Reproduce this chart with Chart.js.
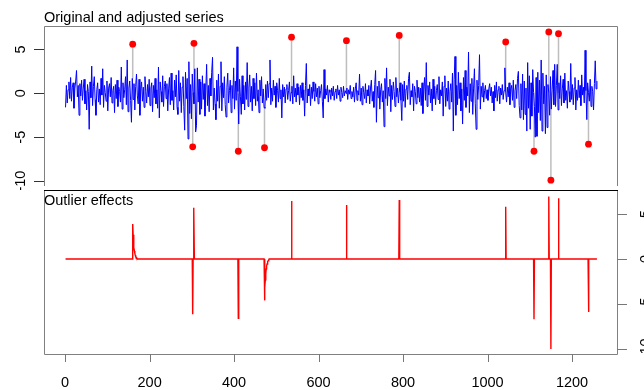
<!DOCTYPE html>
<html>
<head>
<meta charset="utf-8">
<script src="https://cdn.jsdelivr.net/npm/chart.js@4.4.1/dist/chart.umd.min.js"></script>
<style>
  html, body { margin: 0; padding: 0; background: #fff; }
  #wrap { position: relative; width: 644px; height: 390px; overflow: hidden; }
  canvas { position: absolute; left: 0; }
  #topChart { top: 0; }
  #bottomChart { top: 190px; }
</style>
</head>
<body>
<div id="wrap">
  <canvas id="topChart" width="644" height="190"></canvas>
  <canvas id="bottomChart" width="644" height="200"></canvas>
</div>
<script>
// adjusted series, one value every 2 time steps (t = 1, 3, 5, ...)
const adjusted = [
  -1.6, 0.9, -1.1, 0.4, 1.3, -0.6, 1.8, -0.9, 0.7, 1.2, -1.7, 0.5, 1.4, 2.6, -0.4, 0.9, -2.5, 1.1, -0.3, 1.5,
  -0.8, 0.6, 1.6, -1.2, 0.3, -1.9, 1.0, 0.2, -4.1, 1.3, -0.5, 3.1, -1.4, 0.8, 1.9, -0.7, -2.5, 0.4, 1.2, -1.0,
  0.5, -1.3, 1.7, -0.2, 2.8, -1.6, 0.9, 0.1, -0.9, 1.4, -2.0, 0.6, 1.1, -0.4, 1.8, -1.1, 0.3, 0.8, -2.2, 1.0,
  -0.6, 1.5, -1.5, 0.7, 0.2, -1.0, 3.0, -1.8, 1.2, -0.5, 0.4, 1.9, -1.3, 3.8, -2.1, 0.6, 1.4, -0.8, -3.3, 1.7,
  -0.7, 1.1, -1.9, 0.8, 2.2, -0.3, -1.2, 1.6, -2.5, 0.5, 1.3, -0.9, 0.7, -1.6, 1.9, 0.2, -1.1, 1.0, -0.4, 1.6,
  -1.4, 0.6, 1.2, -2.1, 0.9, -0.5, 1.7, -1.2, 0.4, -1.7, 3.0, -2.8, 1.3, 0.2, -1.0, 2.0, -1.5, 0.8, 1.4, -0.6,
  1.1, -2.0, 0.5, 1.8, -1.3, 2.3, -0.8, 0.3, -1.9, 1.5, -0.4, 2.1, -1.6, -2.4, 2.6, -0.9, 1.2, -2.2, 0.7, 1.9,
  -1.5, -4.2, 2.4, -0.6, 1.7, -5.2, 3.6, -2.3, 1.0, -2.9, 2.2, 0.1, -1.2, 2.8, -4.4, -3.7, 2.9, -1.0, 1.6, -2.4,
  1.3, -1.8, 2.0, -0.7, 1.1, -2.6, 0.4, 3.3, -1.4, 0.9, -2.1, 1.7, -0.3, 2.4, 4.1, -1.9, 0.6, -1.2, -3.0, 1.5,
  -0.9, 2.2, -1.7, 0.8, 3.6, -2.0, 1.2, -0.5, 1.9, -1.3, -2.7, 0.7, 2.3, -1.1, 0.3, 1.5, -2.2, 0.9, -0.6, 2.9,
  -1.8, 1.4, -0.8, 5.3, 0.2, -3.5, 1.6, -0.4, -2.4, 2.0, -1.2, 0.9, -1.9, 1.3, -0.7, 3.5, -1.5, 0.6, 2.1, -1.0,
  0.8, -2.0, 1.7, -0.6, 1.2, -1.4, 2.3, -0.9, 0.4, -2.2, 1.5, -0.3, 1.9, -1.1, 0.5, -1.6, -1.7, 1.0, -0.8, 1.4,
  -0.5, 1.1, 3.8, -1.3, 0.6, -0.9, 1.5, -0.2, 0.8, -1.6, 1.2, 0.3, -1.0, 1.7, -0.6, 0.4, -2.8, 1.0, -0.4, 0.7,
  -1.1, 0.5, 1.0, -0.7, 0.3, 1.3, -0.9, 0.1, 0.8, -1.2, 2.0, -0.4, 0.6, -1.0, 1.1, -0.2, 0.7, -1.3, 0.9, -0.5,
  1.2, -0.8, 0.4, -2.6, 0.9, 3.4, -1.1, 0.5, -0.3, 1.0, -1.4, 0.7, -0.6, 1.3, 0.2, -0.9, 1.1, -0.4, 0.6, -1.2,
  0.8, -0.5, 0.3, 1.0, -0.9, -2.8, 2.7, -0.6, 0.5, -0.2, 0.9, -1.0, 0.4, 0.1, -0.7, 0.6, -0.3, 0.8, -0.8, 0.2,
  0.5, -0.6, 0.9, -0.2, 0.4, -0.9, 0.7, 0.1, -0.5, 0.8, -0.3, 0.3, 0.0, 0.6, -0.7, 0.4, -0.1, 0.9, -0.6, 0.2,
  -0.4, 0.7, -1.0, 0.5, 1.2, -0.8, 0.3, -0.2, 2.2, -0.9, 0.6, -1.3, 0.8, 0.1, -0.6, 1.1, -1.1, 0.4, -0.3, 0.9,
  -1.2, 0.6, 1.5, -0.9, 0.2, -1.6, 1.0, 2.6, -3.3, 0.8, -0.5, 1.4, -1.8, 0.4, 1.1, -1.0, 0.3, -3.8, 1.7, -0.6,
  2.9, -1.4, 0.7, -0.3, 1.6, -2.1, 0.9, -0.7, 1.3, 0.2, -1.5, 1.8, -0.4, 0.6, -1.1, 0.1, 1.2, -0.8, -3.1, 1.0,
  -0.9, 1.4, -1.6, 0.5, 0.9, -0.7, 1.7, 2.4, -1.3, 0.3, -0.4, 1.1, -2.0, 0.8, 0.2, -1.2, 1.5, -0.5, 0.7, -1.0,
  0.6, -1.4, 1.2, -2.3, 0.4, 1.8, -0.8, 3.5, -1.5, 0.9, -0.2, 1.3, -1.1, 0.5, -2.0, 1.6, -0.6, 0.8, -1.3, 0.3,
  1.0, -0.7, 1.9, -1.2, 0.4, -0.3, 1.3, -2.6, 0.8, 2.0, -1.5, 0.6, -0.9, 1.4, -1.8, 0.2, 1.1, -1.0, 2.3, -4.3,
  1.6, 4.2, -2.5, 0.9, -1.3, 2.4, -0.6, 1.2, -2.0, 0.5, -3.5, 1.8, -0.8, 2.6, -1.6, 0.7, -0.3, 4.7, -2.2, 1.1,
  -0.9, 1.7, -2.4, 0.6, 2.8, -1.2, -4.1, 1.5, -0.7, 0.9, 4.4, -1.8, 0.8, -0.4, 1.2, -1.0, 0.3, 0.9, -0.6, 0.4,
  -0.8, 0.5, 1.1, -0.3, 0.7, -1.1, 0.2, -2.0, 0.9, -0.5, 1.3, -0.9, 0.4, 0.8, -1.2, 0.6, -0.2, 1.0, -0.7, 0.3,
  2.9, 0.1, -1.0, 0.7, -0.4, 1.2, -1.3, 0.5, 0.9, -0.8, 1.5, -1.6, 0.3, 1.0, -0.6, 1.7, 2.5, -1.4, -2.8, 1.1,
  -1.9, 2.2, -3.0, 1.4, -2.4, 0.6, -4.3, 3.5, -1.7, 2.0, -4.1, 1.2, -2.6, 2.7, 0.1, -1.5, -5.0, 1.8, -4.9, 2.4,
  -2.2, 1.5, -3.1, 3.8, -4.3, 2.3, -1.2, 0.8, -4.6, 2.1, -3.9, 1.0, 0.1, -2.5, 1.9, -1.8, 0.4, 2.6, -1.3, 3.3,
  -1.5, 0.9, 3.3, -1.9, 1.2, -0.6, 2.0, -1.4, 0.5, 1.6, -1.1, 2.3, -0.8, 0.3, -1.7, 1.4, 0.2, -1.0, 3.4, -0.7,
  1.0, -1.3, 0.6, 1.8, -1.9, 0.4, -0.8, 1.5, -0.5, 0.9, -1.4, 2.1, -0.2, 0.7, -1.1, 4.9, 0.3, -3.0, 1.2, 0.1,
  -0.9, 1.6, -1.5, 0.8, 0.2, -1.9, 1.1, 3.7, 0.5, 1.4
];
const timeStart = 1;
const timeStep = 2;

// detected outliers: time, observed value, estimated effect
const outlierX = [160, 302, 305, 410, 472, 536, 666, 791, 1043, 1110, 1145, 1150, 1168, 1239];
const outlierValue = [5.6, -6.1, 5.7, -6.6, -6.2, 6.4, 6.0, 6.6, 5.85, -6.6, 7.0, -9.9, 6.8, -5.8];
const outlierEffect = [3.9, -6.15, 5.7, -6.6, -4.6, 6.45, 6.0, 6.55, 5.8, -6.7, 6.95, -10.0, 6.75, -5.9];

// temporary changes: effect from the outlier time onwards
const tcEffect160 = [3.9, 2.7, 1.9, 1.3, 0.9, 0.65, 0.45, 0.3, 0.2, 0.15, 0.1, 0];
const tcEffect472 = [-4.6, -3.2, -2.3, -1.6, -1.1, -0.8, -0.55, -0.4, -0.25, -0.2, -0.1, 0];
const tcEffects = { 160: tcEffect160, 472: tcEffect472 };

const xTicks = [0, 200, 400, 600, 800, 1000, 1200];
const yTicks = [-10, -5, 0, 5];
const xRange = [-50, 1306.5];
const yRange = [-10.56, 7.67];

const FONT = '14.5px "Liberation Sans", Arial, sans-serif';
const BOX = '#808080';

// data for the library
const adjustedPoints = adjusted.map((v, i) => ({ x: timeStart + timeStep * i, y: v }));
const outlierPoints = outlierX.map((x, i) => ({ x: x, y: outlierValue[i] }));

// grey segments: observed value back to the adjusted level
const originalSegments = [];
outlierX.forEach((x, i) => {
  originalSegments.push({ x: x, y: outlierValue[i] });
  originalSegments.push({ x: x, y: outlierValue[i] - outlierEffect[i] });
  originalSegments.push({ x: x, y: null });
});

const lastTime = timeStart + timeStep * (adjusted.length - 1);
const effectPoints = [{ x: timeStart, y: 0 }];
outlierX.forEach((x, i) => {
  effectPoints.push({ x: x - 1, y: 0 });
  if (tcEffects[x]) {
    tcEffects[x].forEach((v, k) => effectPoints.push({ x: x + k, y: v }));
  } else {
    effectPoints.push({ x: x, y: outlierEffect[i] });
    effectPoints.push({ x: x + 1, y: 0 });
  }
});
effectPoints.push({ x: lastTime, y: 0 });

function rotatedLabel(ctx, text, x, y) {
  ctx.save();
  ctx.translate(x, y);
  ctx.rotate(-Math.PI / 2);
  ctx.fillText(text, 0, 0);
  ctx.restore();
}

const topAxes = {
  id: 'topAxes',
  afterDraw(chart) {
    const { ctx, chartArea: a, scales: { y } } = chart;
    ctx.save();
    ctx.lineWidth = 1;
    ctx.strokeStyle = BOX;
    ctx.beginPath();
    ctx.moveTo(a.left + 0.5, a.bottom);
    ctx.lineTo(a.left + 0.5, a.top + 0.5);
    ctx.lineTo(a.right + 0.5, a.top + 0.5);
    ctx.lineTo(a.right + 0.5, a.bottom);
    ctx.stroke();

    ctx.strokeStyle = '#333';
    ctx.beginPath();
    yTicks.forEach(v => {
      const py = Math.round(y.getPixelForValue(v)) + 0.5;
      ctx.moveTo(a.left - 10, py);
      ctx.lineTo(a.left, py);
    });
    ctx.stroke();

    ctx.fillStyle = '#000';
    ctx.font = FONT;
    ctx.textAlign = 'center';
    ctx.textBaseline = 'alphabetic';
    yTicks.forEach(v => rotatedLabel(ctx, String(v), 25, y.getPixelForValue(v)));

    ctx.textAlign = 'left';
    ctx.fillText('Original and adjusted series', a.left, 22);
    ctx.restore();
  }
};

const bottomAxes = {
  id: 'bottomAxes',
  afterDraw(chart) {
    const { ctx, chartArea: a, scales: { x, y } } = chart;
    ctx.save();
    ctx.lineWidth = 1;
    ctx.strokeStyle = BOX;
    ctx.beginPath();
    ctx.moveTo(a.left + 0.5, a.top);
    ctx.lineTo(a.left + 0.5, a.bottom + 0.5);
    ctx.lineTo(a.right + 0.5, a.bottom + 0.5);
    ctx.lineTo(a.right + 0.5, a.top);
    ctx.stroke();

    ctx.strokeStyle = '#000';
    ctx.beginPath();
    ctx.moveTo(a.left, a.top + 0.5);
    ctx.lineTo(a.right + 1, a.top + 0.5);
    ctx.stroke();

    ctx.strokeStyle = '#777';
    ctx.beginPath();
    xTicks.forEach(v => {
      const px = Math.round(x.getPixelForValue(v)) + 0.5;
      ctx.moveTo(px, a.bottom);
      ctx.lineTo(px, a.bottom + 8);
    });
    yTicks.forEach(v => {
      const py = Math.round(y.getPixelForValue(v)) + 0.5;
      ctx.moveTo(a.right, py);
      ctx.lineTo(a.right + 10, py);
    });
    ctx.stroke();

    ctx.fillStyle = '#000';
    ctx.font = FONT;
    ctx.textAlign = 'center';
    ctx.textBaseline = 'alphabetic';
    xTicks.forEach(v => ctx.fillText(String(v), x.getPixelForValue(v), 196.5));
    yTicks.forEach(v => rotatedLabel(ctx, String(v), 650, y.getPixelForValue(v)));

    ctx.textAlign = 'left';
    ctx.fillText('Outlier effects', a.left, 15);
    ctx.restore();
  }
};

const hiddenScales = {
  x: { type: 'linear', min: xRange[0], max: xRange[1], display: false },
  y: { type: 'linear', min: yRange[0], max: yRange[1], display: false }
};

const baseOptions = {
  responsive: false,
  animation: false,
  events: [],
  devicePixelRatio: 1,
  plugins: { legend: { display: false }, tooltip: { enabled: false }, title: { display: false } },
  scales: hiddenScales
};

new Chart(document.getElementById('topChart'), {
  type: 'scatter',
  data: {
    datasets: [
      {
        label: 'Outliers',
        data: outlierPoints,
        showLine: false,
        pointRadius: 3.4,
        pointBackgroundColor: '#FF0000',
        pointBorderWidth: 0,
        order: 0
      },
      {
        label: 'Adjusted',
        data: adjustedPoints,
        showLine: true,
        borderColor: '#0000FF',
        borderWidth: 1,
        pointRadius: 0,
        order: 1
      },
      {
        label: 'Original',
        data: originalSegments,
        showLine: true,
        spanGaps: false,
        borderColor: '#BEBEBE',
        borderWidth: 1.5,
        pointRadius: 0,
        order: 2
      }
    ]
  },
  options: Object.assign({}, baseOptions, {
    layout: { padding: { left: 44, right: 27, top: 26, bottom: 0 } }
  }),
  plugins: [topAxes]
});

new Chart(document.getElementById('bottomChart'), {
  type: 'scatter',
  data: {
    datasets: [{
      label: 'Outlier effects',
      data: effectPoints,
      showLine: true,
      borderColor: '#FF0000',
      borderWidth: 1.4,
      pointRadius: 0
    }]
  },
  options: Object.assign({}, baseOptions, {
    layout: { padding: { left: 44, right: 27, top: 0, bottom: 36 } }
  }),
  plugins: [bottomAxes]
});
</script>
</body>
</html>
